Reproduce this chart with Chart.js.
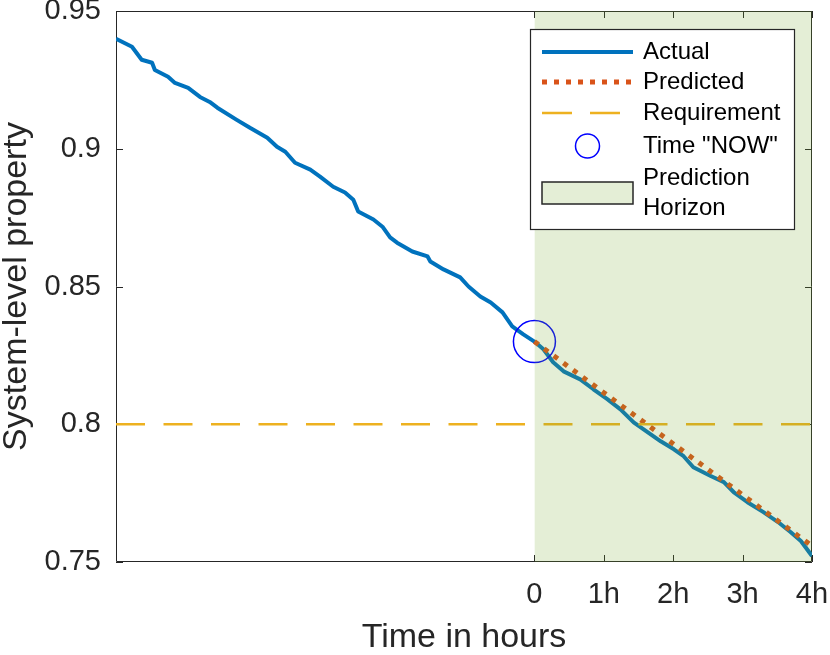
<!DOCTYPE html>
<html><head><meta charset="utf-8">
<script src="https://cdn.jsdelivr.net/npm/chart.js@4.4.1/dist/chart.umd.min.js"></script>
<style>html,body{margin:0;padding:0;background:#fff}</style>
</head><body>
<canvas id="c" width="830" height="655"></canvas>
<script>
// ---- data ----
const actualHours = [-6.03,-5.80,-5.66,-5.51,-5.47,-5.28,-5.18,-4.99,-4.82,-4.68,-4.57,-4.29,-4.10,-3.85,-3.71,-3.59,-3.45,-3.23,-3.09,-2.90,-2.73,-2.61,-2.54,-2.32,-2.19,-2.08,-1.98,-1.76,-1.54,-1.50,-1.31,-1.07,-0.95,-0.78,-0.63,-0.46,-0.32,-0.16,0.00,0.13,0.27,0.42,0.66,0.85,1.05,1.24,1.43,1.63,1.82,2.01,2.15,2.29,2.54,2.73,2.87,3.07,3.30,3.51,3.69,3.84,4.00];
const actualValues = [0.9399,0.9370,0.9323,0.9312,0.9286,0.9261,0.9239,0.9221,0.9188,0.9170,0.9149,0.9105,0.9076,0.9040,0.9007,0.8989,0.8949,0.8924,0.8899,0.8862,0.8841,0.8815,0.8772,0.8743,0.8717,0.8678,0.8659,0.8627,0.8609,0.8591,0.8562,0.8533,0.8500,0.8464,0.8442,0.8406,0.8355,0.8326,0.8300,0.8272,0.8225,0.8192,0.8163,0.8127,0.8091,0.8054,0.8007,0.7971,0.7938,0.7909,0.7884,0.7844,0.7812,0.7790,0.7754,0.7717,0.7681,0.7645,0.7609,0.7576,0.7522];
const predictedHours = [0, 4];
const predictedValues = [0.830, 0.7558];
const requirementHours = [-6.03, 4];
const requirementValues = [0.8, 0.8];
const nowHours = [0];
const nowValues = [0.830];
const horizonHours = [0, 4];
const horizonTop = [0.95, 0.95];
const xTicks = [0, 1, 2, 3, 4];
const xTickLabels = ['0', '1h', '2h', '3h', '4h'];
const yTicks = [0.75, 0.8, 0.85, 0.9, 0.95];
const yTickLabels = ['0.75', '0.8', '0.85', '0.9', '0.95'];
const legendLabels = ['Actual', 'Predicted', 'Requirement', 'Time "NOW"', ['Prediction', 'Horizon']];

const FONT = '"Liberation Sans", Arial, Helvetica, sans-serif';
const AXC = '#262626';
const pts = (xs, ys) => xs.map((x, i) => ({x: x, y: ys[i]}));

const boxPlugin = {
  id: 'boxTicks',
  beforeDatasetsDraw(chart) {
    const {ctx, chartArea: a, scales: {x, y}} = chart;
    ctx.save();
    ctx.strokeStyle = AXC; ctx.lineWidth = 1;
    ctx.beginPath();
    ctx.rect(Math.round(a.left) + 0.5, Math.round(a.top) + 0.5, Math.round(a.right - a.left) - 1, Math.round(a.bottom - a.top) - 1);
    const L = 7;
    xTicks.forEach(v => {
      const px = Math.round(x.getPixelForValue(v)) + 0.5;
      ctx.moveTo(px, a.bottom); ctx.lineTo(px, a.bottom - L);
      ctx.moveTo(px, a.top); ctx.lineTo(px, a.top + L);
    });
    yTicks.forEach(v => {
      const py = Math.round(y.getPixelForValue(v)) + 0.5;
      ctx.moveTo(a.left, py); ctx.lineTo(a.left + L, py);
      ctx.moveTo(a.right, py); ctx.lineTo(a.right - L, py);
    });
    ctx.stroke();
    ctx.restore();
  }
};

const legendPlugin = {
  id: 'customLegend',
  afterDraw(chart) {
    const {ctx, chartArea: a} = chart;
    const bx = a.right - 282, by = a.top + 18, bw = 264, bh = 200;
    ctx.save();
    ctx.fillStyle = '#fff';
    ctx.fillRect(bx, by, bw, bh);
    ctx.strokeStyle = AXC; ctx.lineWidth = 1.2;
    ctx.strokeRect(bx + 0.5, by + 0.5, bw, bh);
    const sx0 = bx + 12, sx1 = bx + 103, tx = bx + 113;
    const rows = [by + 23, by + 53, by + 84, by + 117];
    ctx.lineCap = 'butt';
    ctx.strokeStyle = '#0072BD'; ctx.lineWidth = 4; ctx.setLineDash([]);
    ctx.beginPath(); ctx.moveTo(sx0, rows[0]); ctx.lineTo(sx1, rows[0]); ctx.stroke();
    ctx.strokeStyle = '#D95319'; ctx.lineWidth = 5; ctx.setLineDash([5, 7]);
    ctx.beginPath(); ctx.moveTo(sx0, rows[1]); ctx.lineTo(sx1, rows[1]); ctx.stroke();
    ctx.strokeStyle = '#EDB120'; ctx.lineWidth = 2.5; ctx.setLineDash([30, 18]);
    ctx.beginPath(); ctx.moveTo(sx0, rows[2]); ctx.lineTo(sx1, rows[2]); ctx.stroke();
    ctx.setLineDash([]);
    ctx.strokeStyle = '#0000FF'; ctx.lineWidth = 1.5;
    ctx.beginPath(); ctx.arc((sx0 + sx1) / 2, rows[3], 12, 0, Math.PI * 2); ctx.stroke();
    ctx.fillStyle = 'rgba(119,172,48,0.2)';
    ctx.fillRect(sx0, by + 153, sx1 - sx0, 22);
    ctx.strokeStyle = AXC; ctx.lineWidth = 1.5;
    ctx.strokeRect(sx0, by + 153, sx1 - sx0, 22);
    ctx.fillStyle = '#000';
    ctx.font = '24px ' + FONT;
    ctx.textBaseline = 'middle'; ctx.textAlign = 'left';
    ctx.fillText(legendLabels[0], tx, rows[0]);
    ctx.fillText(legendLabels[1], tx, rows[1]);
    ctx.fillText(legendLabels[2], tx, rows[2]);
    ctx.fillText(legendLabels[3], tx, rows[3]);
    ctx.fillText(legendLabels[4][0], tx, by + 149);
    ctx.fillText(legendLabels[4][1], tx, by + 179);
    ctx.restore();
  }
};

new Chart(document.getElementById('c'), {
  type: 'line',
  data: {
    datasets: [
      { label: 'Prediction Horizon', data: pts(horizonHours, horizonTop), borderWidth: 0, pointRadius: 0,
        fill: 'start', backgroundColor: 'rgba(119,172,48,0.2)', order: 0 },
      { label: 'Time "NOW"', data: pts(nowHours, nowValues), showLine: false, pointRadius: 21,
        pointBorderWidth: 1.5, pointBorderColor: '#0000FF', pointBackgroundColor: 'rgba(0,0,0,0)', order: 1 },
      { label: 'Requirement', data: pts(requirementHours, requirementValues), borderColor: '#EDB120',
        borderWidth: 2.5, borderDash: [29, 18.5], pointRadius: 0, fill: false, order: 2 },
      { label: 'Predicted', data: pts(predictedHours, predictedValues), borderColor: '#D95319',
        borderWidth: 5, borderDash: [5, 7], borderCapStyle: 'butt', pointRadius: 0, fill: false, order: 3 },
      { label: 'Actual', data: pts(actualHours, actualValues), borderColor: '#0072BD',
        borderWidth: 4, pointRadius: 0, fill: false, tension: 0, borderJoinStyle: 'round', order: 4 }
    ]
  },
  options: {
    responsive: false,
    animation: false,
    devicePixelRatio: 1,
    layout: { autoPadding: false, padding: { top: 11, right: 18, left: 0, bottom: 0 } },
    plugins: { legend: { display: false }, tooltip: { enabled: false } },
    scales: {
      x: {
        type: 'linear', min: -6.03, max: 4,
        afterBuildTicks: s => { s.ticks = xTicks.map(v => ({value: v})); },
        afterFit: s => { s.height = 93; s.paddingLeft = 0; s.paddingRight = 0; s.paddingTop = 0; s.paddingBottom = 0; },
        grid: { display: false, drawTicks: false },
        border: { display: false },
        ticks: { padding: 16, color: AXC, font: { family: FONT, size: 29 },
          callback: (v) => { const i = xTicks.indexOf(v); return i >= 0 ? xTickLabels[i] : ''; },
          maxRotation: 0, autoSkip: false },
        title: { display: true, text: 'Time in hours', color: AXC, padding: 0,
          font: { family: FONT, size: 34, lineHeight: 1 } }
      },
      y: {
        min: 0.75, max: 0.95,
        afterBuildTicks: s => { s.ticks = yTicks.map(v => ({value: v})); },
        afterFit: s => { s.width = 116; s.paddingTop = 0; s.paddingBottom = 0; s.paddingLeft = 0; s.paddingRight = 0; },
        grid: { display: false, drawTicks: false },
        border: { display: false },
        ticks: { padding: 15, color: AXC, font: { family: FONT, size: 29 },
          callback: (v) => { const i = yTicks.indexOf(v); return i >= 0 ? yTickLabels[i] : ''; } },
        title: { display: true, text: 'System-level property', color: AXC, padding: 0,
          font: { family: FONT, size: 34, lineHeight: 1 } }
      }
    }
  },
  plugins: [boxPlugin, legendPlugin]
});
</script>
</body></html>
